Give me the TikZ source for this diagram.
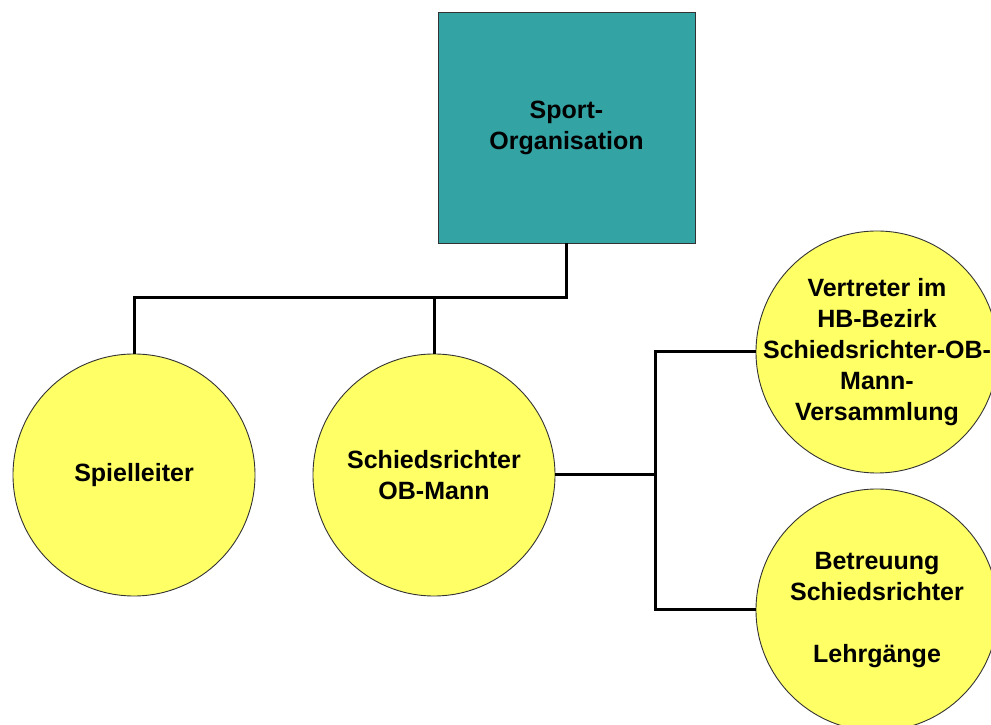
\documentclass[tikz,border=0pt]{standalone}
\usepackage{fontspec}
\setmainfont{Liberation Sans}
\usetikzlibrary{positioning}
\definecolor{orgteal}{RGB}{51,163,163}
\definecolor{circyellow}{RGB}{255,255,102}

\begin{document}
\begin{tikzpicture}[x=1pt,y=1pt,
  every node/.style={font=\fontsize{25}{31}\selectfont\bfseries,align=center},
  orgbox/.style={draw=black!80,line width=0.9pt,fill=orgteal,minimum width=257pt,minimum height=231pt,inner sep=0pt},
  unit/.style={circle,draw=black!80,line width=0.9pt,fill=circyellow,minimum size=242pt,inner sep=0pt},
  conn/.style={line width=3pt}]
\useasboundingbox (0,0) rectangle (991,725);
% Spitze
\node[orgbox] (org) at (566.5,597.5) {Sport-\\Organisation};
% Ebene darunter
\node[unit] (spiel) at (134,250) {Spielleiter};
\node[unit] (sobm) at (434,250) {Schiedsrichter\\OB-Mann};
\node[unit] (vertr) at (877,373) {};
\node (vertrtext) at (vertr.center) {Vertreter im\\HB-Bezirk\\Schiedsrichter-OB-\\Mann-\\Versammlung};
\node[unit] (betr) at (877,115) {Betreuung\\Schiedsrichter\\[31pt]Lehrg\"ange};
% Verbindungen
\coordinate (bus) at (566.5,427);
\coordinate (rbus) at (655,250);
\draw[conn] (org.south) -- (bus) -| (spiel.north);
\draw[conn] (bus) -| (sobm.north);
\draw[conn] (sobm.east) -- (rbus) |- (vertr.west);
\draw[conn] (rbus) |- (betr.west);
\end{tikzpicture}
\end{document}
